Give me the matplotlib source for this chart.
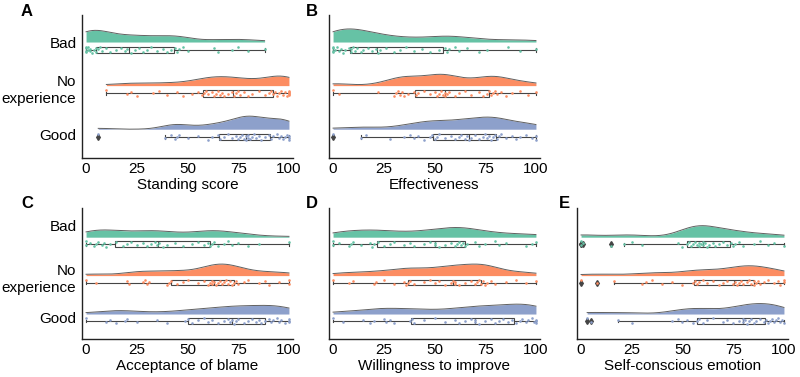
import numpy as np
import matplotlib
matplotlib.use("Agg")
import matplotlib.pyplot as plt

plt.rcParams["font.family"] = ["Liberation Sans", "DejaVu Sans"]

# -------------------------
# Data (scores 0-100)
# -------------------------
groups = ["Bad", "No\nexperience", "Good"]
colors = ["#66c2a5", "#fc8d62", "#8da0cb"]

standing_bad = [0, 0, 0, 0, 1, 1, 2, 2, 3, 4, 5, 5, 6, 7, 8, 10, 12, 15, 17, 19,
                20, 22, 24, 26, 28, 30, 32, 35, 38, 40, 42, 44, 45, 46, 48, 50,
                63, 65, 72, 75, 80, 88]
standing_noexp = [10, 20, 22, 25, 33, 36, 40, 45, 48, 52, 55, 57, 58, 59, 60, 62,
                  63, 64, 65, 66, 67, 68, 70, 72, 73, 74, 75, 76, 78, 80, 82, 85,
                  88, 90, 91, 92, 93, 94, 95, 96, 97, 98, 99, 100, 100, 100, 100, 100]
standing_good = [6, 39, 42, 44, 45, 46, 50, 55, 60, 62, 65, 66, 68, 70, 72, 74, 75,
                 76, 77, 78, 79, 79, 80, 80, 81, 82, 83, 84, 85, 86, 88, 90, 91,
                 92, 94, 95, 96, 97, 98, 99, 100, 100, 100]

effect_bad = [0, 0, 0, 0, 1, 2, 3, 4, 5, 6, 8, 9, 9, 10, 11, 12, 14, 15, 17, 19,
              21, 22, 23, 26, 30, 33, 36, 40, 44, 48, 52, 55, 56, 57, 60, 62, 66,
              72, 76, 86, 92, 100]
effect_noexp = [0, 3, 22, 30, 31, 32, 33, 34, 35, 37, 40, 41, 42, 45, 48, 50, 51,
                52, 53, 54, 55, 55, 56, 57, 60, 62, 65, 68, 72, 74, 76, 77, 78, 79,
                80, 81, 83, 85, 88, 92, 96, 100]
effect_good = [0, 14, 16, 28, 35, 38, 40, 42, 45, 48, 49, 50, 51, 52, 55, 58, 60,
               62, 63, 65, 66, 67, 68, 70, 72, 74, 75, 76, 77, 78, 79, 80, 81, 82,
               83, 85, 88, 90, 92, 95, 98, 100, 100]

blame_bad = [0, 0, 2, 4, 5, 6, 8, 9, 10, 12, 15, 18, 20, 22, 25, 28, 30, 32, 34,
             35, 36, 38, 40, 44, 48, 52, 55, 58, 60, 61, 62, 63, 65, 68, 70, 72,
             75, 80, 85, 100]
blame_noexp = [0, 5, 20, 21, 28, 29, 30, 31, 40, 41, 42, 45, 48, 50, 55, 58, 60,
               61, 62, 62, 63, 64, 65, 66, 67, 68, 69, 70, 71, 72, 73, 74, 75, 78,
               80, 85, 88, 90, 95, 100, 100]
blame_good = [0, 10, 12, 15, 19, 20, 25, 35, 40, 49, 50, 52, 55, 58, 60, 62, 65,
              68, 70, 71, 72, 73, 74, 75, 78, 80, 82, 84, 85, 86, 88, 90, 91, 92,
              94, 95, 96, 98, 100, 100, 100]

improve_bad = [0, 0, 3, 8, 9, 10, 14, 18, 19, 20, 22, 25, 28, 30, 35, 38, 40, 45,
               48, 50, 50, 52, 55, 58, 60, 61, 62, 63, 64, 65, 66, 70, 72, 75, 80,
               82, 85, 95, 98, 100]
improve_noexp = [0, 8, 10, 20, 21, 25, 30, 35, 36, 37, 38, 40, 45, 48, 50, 52, 55,
                 58, 59, 60, 60, 62, 65, 68, 70, 71, 72, 73, 74, 75, 76, 78, 80,
                 85, 90, 95, 100]
improve_good = [0, 5, 15, 18, 20, 25, 26, 28, 30, 38, 39, 40, 45, 50, 55, 60, 62,
                65, 68, 70, 70, 72, 75, 78, 80, 82, 84, 86, 88, 90, 92, 93, 95, 96,
                98, 99, 100, 100, 100]

emotion_bad = [0, 0, 1, 15, 21, 25, 30, 48, 50, 52, 53, 54, 55, 56, 57, 58, 58,
               59, 60, 60, 61, 62, 63, 65, 66, 68, 70, 72, 74, 75, 76, 78, 80, 85,
               88, 92, 95, 100]
emotion_noexp = [0, 8, 16, 30, 32, 35, 40, 45, 50, 55, 56, 57, 58, 60, 62, 65, 68,
                 70, 72, 75, 76, 77, 78, 79, 80, 82, 83, 84, 85, 85, 86, 87, 88,
                 90, 92, 95, 97, 98, 100, 100]
emotion_good = [3, 5, 18, 25, 45, 48, 50, 52, 55, 57, 58, 60, 62, 65, 70, 72, 75,
                78, 80, 80, 81, 82, 83, 84, 85, 86, 88, 90, 91, 92, 93, 94, 95, 96,
                97, 98, 99, 100]

panels = [
    ("A", "Standing score", [standing_bad, standing_noexp, standing_good]),
    ("B", "Effectiveness", [effect_bad, effect_noexp, effect_good]),
    ("C", "Acceptance of blame", [blame_bad, blame_noexp, blame_good]),
    ("D", "Willingness to improve", [improve_bad, improve_noexp, improve_good]),
    ("E", "Self-conscious emotion", [emotion_bad, emotion_noexp, emotion_good]),
]


def kde(vals, factor=0.3):
    vals = np.asarray(vals, float)
    grid = np.linspace(vals.min(), vals.max(), 300)
    bw = factor * vals.std(ddof=1)
    z = (grid[:, None] - vals[None, :]) / bw
    dens = np.exp(-0.5 * z ** 2).sum(axis=1) / (len(vals) * bw * np.sqrt(2 * np.pi))
    return grid, dens


# -------------------------
# Layout (figure fractions)
# -------------------------
fig = plt.figure(figsize=(8, 3.77), dpi=100)
W, H = 800, 377
axw = 211 / W
row1 = (1 - 158 / H, 143 / H)
row2 = (1 - 339 / H, 131 / H)
positions = [(82 / W, row1), (329 / W, row1), (82 / W, row2), (329 / W, row2), (577 / W, row2)]
ylims = [(2.48, -0.8), (2.48, -0.8), (2.47, -0.94), (2.47, -0.94), (2.47, -0.94)]
label_pos = {0: [-0.16, 0.86, 1.95], 2: [-0.49, 0.84, 1.90]}
letter_xy = [(27, 12), (312, 12), (27, 203), (312, 204), (564, 204)]

edge = "#454545"

for k, (letter, xlabel, data) in enumerate(panels):
    left, (bottom, height) = positions[k]
    ax = fig.add_axes([left, bottom, axw, height])

    dens_list = [kde(v) for v in data]
    dmax = max(d.max() for _, d in dens_list)
    scale = 0.3 / dmax

    for i, vals in enumerate(data):
        grid, dens = dens_list[i]
        base = i - 0.18
        top = base - dens * scale
        ax.fill_between(grid, base, top, color=colors[i], lw=0, zorder=1)
        ax.plot(grid, top, color="#606060", lw=0.7, zorder=2)

        ax.boxplot(vals, positions=[i], vert=False, widths=0.15, patch_artist=True,
                   boxprops=dict(facecolor="white", edgecolor=edge, lw=0.8),
                   whiskerprops=dict(color=edge, lw=0.8),
                   capprops=dict(color=edge, lw=0.8),
                   medianprops=dict(color=edge, lw=0.8),
                   flierprops=dict(marker="d", markersize=3, markerfacecolor=edge,
                                   markeredgecolor=edge),
                   zorder=3)

        n = len(vals)
        jitter = ((np.arange(n) * 0.618034) % 1 - 0.5) * 0.14
        ax.scatter(vals, i + jitter, s=3.5, color=colors[i], zorder=4, lw=0)

    ax.set_xlim(-2, 102)
    ax.set_ylim(*ylims[k])
    ax.set_xticks([0, 25, 50, 75, 100])
    ax.tick_params(axis="both", length=0, labelsize=11)
    ax.tick_params(axis="x", pad=3)
    if k in label_pos:
        ax.set_yticks(label_pos[k])
        ax.set_yticklabels(groups, fontsize=11, linespacing=1.3)
        ax.tick_params(axis="y", pad=4)
    else:
        ax.set_yticks([])
    ax.set_xlabel(xlabel, fontsize=11, labelpad=1)
    for s in ["top", "right"]:
        ax.spines[s].set_visible(False)
    for s in ["left", "bottom"]:
        ax.spines[s].set_linewidth(1.0)
        ax.spines[s].set_color("#222222")

    fig.text(letter_xy[k][0] / W, 1 - letter_xy[k][1] / H, letter, fontsize=12,
             fontweight="bold", ha="center", va="center")

fig.savefig("out.png", dpi=100)
